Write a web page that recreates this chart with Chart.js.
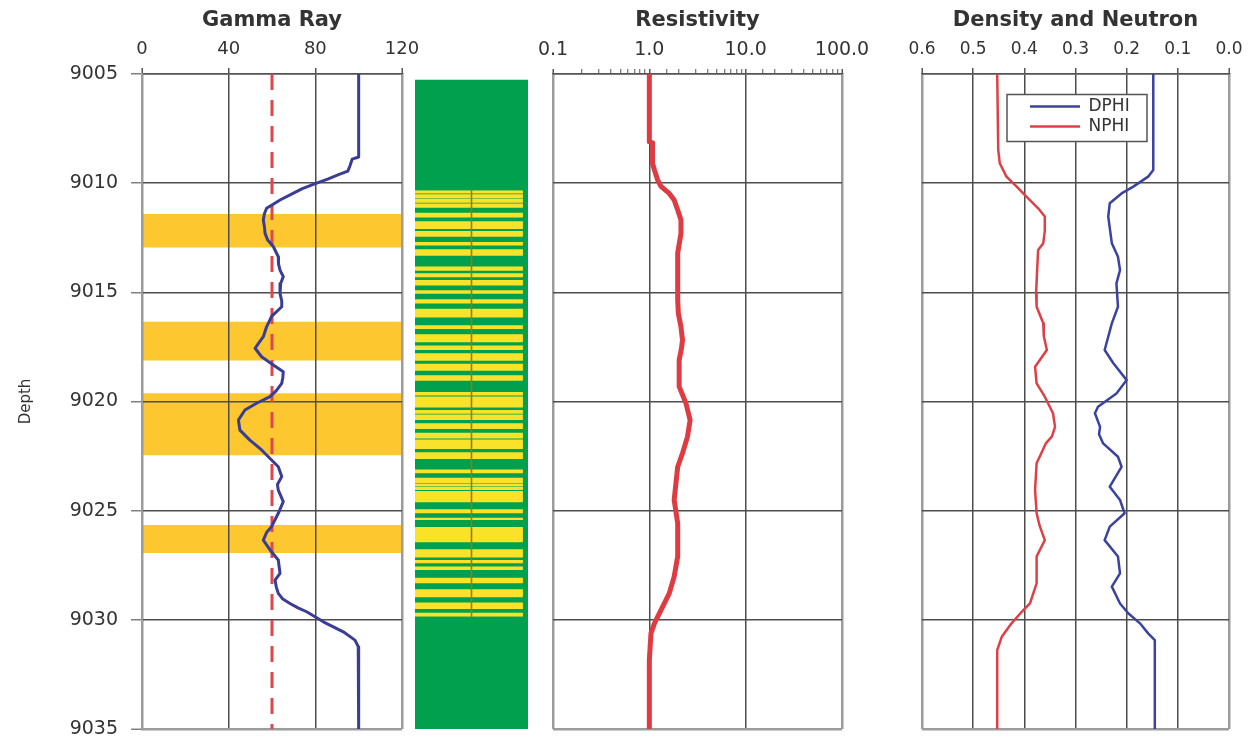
<!DOCTYPE html>
<html>
<head>
<meta charset="utf-8">
<script src="https://cdn.jsdelivr.net/npm/chart.js@4/dist/chart.umd.min.js"></script>
<style>
html,body{margin:0;padding:0;background:#ffffff;}
#wrap{position:relative;width:1256px;height:738px;overflow:hidden;}
#wrap canvas{position:absolute;left:0;top:0;}
</style>
</head>
<body>
<div id="wrap">
<canvas id="cLith" width="1256" height="738"></canvas>
<canvas id="cGamma" width="1256" height="738"></canvas>
<canvas id="cRes" width="1256" height="738"></canvas>
<canvas id="cDen" width="1256" height="738"></canvas>
</div>
<script>
// ---------------- DATA ----------------
const depthTicks = [9005, 9010, 9015, 9020, 9025, 9030, 9035];
const depthTickLabels = ['9005', '9010', '9015', '9020', '9025', '9030', '9035'];
const gammaTicks = [0, 40, 80, 120];
const gammaTickLabels = ['0', '40', '80', '120'];
const resTicks = [0.1, 1, 10, 100];
const resTickLabels = ['0.1', '1.0', '10.0', '100.0'];
const porTicks = [0.6, 0.5, 0.4, 0.3, 0.2, 0.1, 0.0];
const porTickLabels = ['0.6', '0.5', '0.4', '0.3', '0.2', '0.1', '0.0'];

const gammaDepth = [9005, 9008.8, 9008.9, 9009.2, 9009.45, 9009.6, 9009.8, 9010.0, 9010.25, 9010.47, 9010.77, 9011.0, 9011.15, 9011.4, 9011.69, 9012.0, 9012.3, 9012.6, 9012.9, 9013.37, 9013.7, 9013.98, 9014.28, 9014.6, 9015.05, 9015.4, 9015.66, 9016.1, 9016.58, 9017.03, 9017.3, 9017.56, 9017.95, 9018.33, 9018.64, 9018.9, 9019.17, 9019.5, 9019.78, 9020.08, 9020.39, 9020.85, 9021.31, 9021.77, 9022.22, 9022.68, 9022.99, 9023.44, 9023.8, 9024.06, 9024.59, 9025.12, 9025.73, 9026.0, 9026.35, 9026.8, 9027.26, 9027.87, 9028.18, 9028.5, 9028.79, 9029.05, 9029.25, 9029.45, 9029.63, 9030.09, 9030.55, 9030.93, 9031.23, 9035];
const gammaValue = [100, 100, 97, 96, 95, 91, 86, 80.6, 74, 69.7, 63.7, 60, 57.5, 56.5, 56, 56.5, 56.8, 58, 60.6, 62.9, 63, 63.7, 65.2, 64, 63.7, 64.5, 64.5, 59.8, 57.5, 56, 54, 52.2, 55.2, 60.6, 65.2, 65, 64.5, 62, 59.1, 52.9, 47.5, 44.5, 45.2, 49.8, 55.2, 59.8, 62.9, 64.5, 62.5, 62.9, 65.2, 62.9, 59.8, 57.5, 56, 59.1, 62.9, 63.7, 61.4, 62, 62.9, 65, 68.3, 72, 76, 83.7, 92.9, 98.3, 99.8, 100];
const gammaCutoff = [60];
const payZoneTop = [9011.4, 9016.35, 9019.62, 9025.66];
const payZoneBase = [9012.95, 9018.12, 9022.46, 9026.95];

const lithoColumn = [9005.25, 9035];
const lithoInterbedded = [9010.3, 9029.86];
const sandBedTop = [9010.32, 9010.51, 9010.73, 9010.93, 9011.35, 9011.74, 9012.19, 9012.70, 9013.03, 9013.82, 9014.13, 9014.44, 9014.90, 9015.32, 9015.75, 9016.51, 9016.92, 9017.43, 9017.79, 9018.27, 9018.80, 9019.57, 9019.77, 9020.39, 9020.60, 9021.00, 9021.43, 9021.74, 9022.32, 9023.11, 9023.49, 9023.77, 9023.92, 9024.10, 9024.94, 9025.32, 9025.75, 9026.77, 9027.26, 9027.56, 9028.07, 9028.60, 9029.21, 9029.67];
const sandBedBase = [9010.47, 9010.70, 9010.90, 9011.13, 9011.57, 9012.10, 9012.45, 9012.86, 9013.32, 9014.01, 9014.31, 9014.69, 9015.07, 9015.51, 9016.15, 9016.68, 9017.29, 9017.64, 9018.13, 9018.59, 9019.05, 9019.72, 9020.27, 9020.56, 9020.85, 9021.26, 9021.70, 9022.17, 9022.63, 9023.29, 9023.74, 9023.89, 9024.05, 9024.62, 9025.12, 9025.43, 9026.45, 9027.14, 9027.41, 9027.72, 9028.33, 9028.97, 9029.50, 9029.86];

const resDepth = [9005, 9008.1, 9008.15, 9009.1, 9009.4, 9009.86, 9010.15, 9010.47, 9010.77, 9011.23, 9011.69, 9012.3, 9013.2, 9014.28, 9015.35, 9015.96, 9016.58, 9017.19, 9017.6, 9018.1, 9019.32, 9020.08, 9020.85, 9021.61, 9022.37, 9022.99, 9024.51, 9025.58, 9027.1, 9028.02, 9028.79, 9029.55, 9030.16, 9030.62, 9031.84, 9035];
const resValue = [1.0, 1.0, 1.08, 1.08, 1.13, 1.22, 1.32, 1.61, 1.81, 1.97, 2.13, 2.13, 1.97, 1.97, 1.97, 2.0, 2.13, 2.21, 2.15, 2.04, 2.04, 2.40, 2.65, 2.49, 2.21, 1.97, 1.81, 1.97, 1.97, 1.81, 1.61, 1.32, 1.13, 1.04, 1.0, 1.0];

const nphiDepth = [9005, 9008.48, 9009.09, 9009.7, 9010.16, 9010.62, 9011.15, 9011.53, 9012.2, 9012.75, 9013.06, 9013.98, 9015.05, 9015.66, 9016.42, 9017.0, 9017.64, 9018.41, 9019.17, 9019.78, 9020.54, 9021.16, 9021.6, 9021.92, 9022.83, 9024.06, 9025.12, 9025.7, 9026.35, 9027.1, 9028.33, 9029.25, 9029.63, 9030.16, 9030.77, 9031.39, 9035];
const nphiValue = [0.453, 0.451, 0.448, 0.435, 0.415, 0.396, 0.373, 0.360, 0.360, 0.363, 0.373, 0.375, 0.377, 0.376, 0.363, 0.362, 0.356, 0.379, 0.376, 0.360, 0.344, 0.340, 0.346, 0.358, 0.376, 0.379, 0.376, 0.370, 0.360, 0.376, 0.376, 0.389, 0.405, 0.425, 0.444, 0.453, 0.453];

const dphiDepth = [9005, 9008.48, 9009.4, 9009.7, 9010.16, 9010.47, 9010.92, 9011.53, 9012.75, 9013.37, 9013.98, 9014.59, 9015.66, 9016.42, 9017.64, 9018.25, 9019.02, 9019.63, 9020.24, 9020.54, 9021.16, 9021.5, 9021.92, 9022.53, 9022.99, 9023.9, 9024.51, 9025.12, 9025.73, 9026.35, 9027.1, 9027.87, 9028.48, 9029.25, 9029.7, 9030.16, 9030.62, 9030.93, 9035];
const dphiValue = [0.148, 0.148, 0.148, 0.158, 0.187, 0.210, 0.233, 0.236, 0.229, 0.217, 0.213, 0.220, 0.217, 0.229, 0.243, 0.226, 0.200, 0.220, 0.256, 0.262, 0.252, 0.254, 0.246, 0.217, 0.210, 0.233, 0.213, 0.204, 0.233, 0.243, 0.217, 0.213, 0.229, 0.213, 0.197, 0.174, 0.158, 0.145, 0.145];

// ---------------- STYLE / HELPERS ----------------
const FONT = "'DejaVu Sans', 'Liberation Sans', sans-serif";
const TXT = '#333333';
const GRID_IN = '#4d4d4d';
const GRID_OUT = '#9c9c9c';
const W = 1256, H = 738;
const TOP_H = 74, BOT_PAD = 9;

Chart.defaults.font.family = FONT;
Chart.defaults.color = TXT;

const pts = (vals, depths) => vals.map((v, i) => ({x: v, y: depths[i]}));
const near = (a, b) => Math.abs(a - b) < 1e-6 * Math.max(1, Math.abs(b));
const labelFrom = (ticks, labels) => (v) => {
  const i = ticks.findIndex(t => near(v, t));
  return i >= 0 ? labels[i] : '';
};
const dMin = depthTicks[0], dMax = depthTicks[depthTicks.length - 1];

function boxPolygon(tops, bases, x0, x1) {
  const out = [];
  tops.forEach((t, i) => {
    out.push({x: x0, y: t}, {x: x1, y: t}, {x: x1, y: bases[i]}, {x: x0, y: bases[i]});
  });
  return out;
}

function depthScale(showLabels) {
  return {
    type: 'linear', position: 'left', min: dMin, max: dMax, reverse: true,
    afterFit: (s) => { s.width = showLabels ? 142 : 0; s.paddingTop = 0; s.paddingBottom = 0; },
    ticks: {
      display: showLabels, stepSize: 5, padding: 13,
      font: {family: FONT, size: 19, lineHeight: 1}, color: TXT,
      callback: labelFrom(depthTicks, depthTickLabels)
    },
    grid: {
      drawTicks: showLabels, tickLength: 11, tickColor: '#808080', tickWidth: 1.5,
      color: (c) => near(c.tick.value, dMax) ? GRID_OUT : GRID_IN,
      lineWidth: (c) => near(c.tick.value, dMax) ? 2.5 : 1.5
    },
    border: {display: showLabels, color: GRID_OUT, width: 2},
    title: showLabels ? {display: true, text: 'Depth', font: {family: FONT, size: 15}, color: TXT, padding: {top: 17, bottom: 0}} : {display: false}
  };
}

function topTitle(text) {
  return {display: true, text: text, font: {family: FONT, size: 21, weight: 'bold'}, color: TXT, padding: {top: 8, bottom: 0}};
}

const baseOpts = (left, right) => ({
  indexAxis: 'y', responsive: false, animation: false, events: [],
  layout: {padding: {left: left, right: W - right, top: 0, bottom: BOT_PAD}},
  elements: {point: {radius: 0}, line: {tension: 0, borderCapStyle: 'butt', borderJoinStyle: 'round'}}
});

// ---------------- LITHOLOGY ----------------
new Chart(document.getElementById('cLith'), {
  type: 'line',
  data: {datasets: [
    {label: 'center', data: [{x: 0.5, y: lithoInterbedded[0]}, {x: 0.5, y: lithoInterbedded[1]}], borderColor: '#8c7d1c', borderWidth: 1.6, fill: false, pointRadius: 0},
    {label: 'sand', data: boxPolygon(sandBedTop, sandBedBase, 0, 0.955), borderWidth: 0, borderColor: 'rgba(0,0,0,0)', backgroundColor: '#f8e32a', fill: 'origin', pointRadius: 0},
    {label: 'shale', data: [{x: 1, y: lithoColumn[0]}, {x: 1, y: lithoColumn[1]}], borderWidth: 0, borderColor: 'rgba(0,0,0,0)', backgroundColor: '#01a04f', fill: 'origin', pointRadius: 0}
  ]},
  options: Object.assign(baseOpts(415, 528), {
    layout: {padding: {left: 415, right: W - 528, top: TOP_H, bottom: BOT_PAD}},
    plugins: {legend: {display: false}, tooltip: {enabled: false}},
    scales: {
      x: {type: 'linear', display: false, min: 0, max: 1},
      y: {type: 'linear', display: false, min: dMin, max: dMax, reverse: true}
    }
  })
});

// ---------------- GAMMA RAY ----------------
const gMin = gammaTicks[0], gMax = gammaTicks[gammaTicks.length - 1];
new Chart(document.getElementById('cGamma'), {
  type: 'line',
  data: {datasets: [
    {label: 'Gamma Ray', data: pts(gammaValue, gammaDepth), borderColor: '#3a3d96', borderWidth: 3, fill: false, pointRadius: 0},
    {label: 'Cutoff', data: [{x: gammaCutoff[0], y: dMin}, {x: gammaCutoff[0], y: dMax}], borderColor: '#e0464c', borderWidth: 3, borderDash: [16, 10], fill: false, pointRadius: 0},
    {label: 'Pay', data: boxPolygon(payZoneTop, payZoneBase, gMin, gMax), borderWidth: 0, borderColor: 'rgba(0,0,0,0)', backgroundColor: '#fcc72f', fill: 'origin', pointRadius: 0}
  ]},
  options: Object.assign(baseOpts(0, 402), {
    plugins: {legend: {display: false}, tooltip: {enabled: false}, filler: {drawTime: 'beforeDraw'}},
    scales: {
      x: {
        type: 'linear', position: 'top', min: gMin, max: gMax,
        afterFit: (s) => { s.height = TOP_H; },
        ticks: {stepSize: 40, padding: 8, maxRotation: 0, font: {family: FONT, size: 18}, color: TXT, callback: labelFrom(gammaTicks, gammaTickLabels)},
        grid: {
          tickLength: 6, tickColor: '#555555', tickWidth: 1.5,
          color: (c) => (near(c.tick.value, gMin) || near(c.tick.value, gMax)) ? GRID_OUT : GRID_IN,
          lineWidth: (c) => (near(c.tick.value, gMin) || near(c.tick.value, gMax)) ? 2.5 : 1.5
        },
        border: {color: '#555555', width: 1.5},
        title: topTitle('Gamma Ray')
      },
      y: depthScale(true)
    }
  })
});

// ---------------- RESISTIVITY ----------------
const isMajorRes = (v) => resTicks.some(t => near(v, t));
const isEdgeRes = (v) => near(v, resTicks[0]) || near(v, resTicks[resTicks.length - 1]);
new Chart(document.getElementById('cRes'), {
  type: 'line',
  data: {datasets: [
    {label: 'Resistivity', data: pts(resValue, resDepth), borderColor: '#df3b42', borderWidth: 5, fill: false, pointRadius: 0}
  ]},
  options: Object.assign(baseOpts(553, 842), {
    plugins: {legend: {display: false}, tooltip: {enabled: false}},
    scales: {
      x: {
        type: 'logarithmic', position: 'top', min: resTicks[0], max: resTicks[resTicks.length - 1],
        afterFit: (s) => { s.height = TOP_H; },
        ticks: {autoSkip: false, maxRotation: 0, minRotation: 0, padding: 8, font: {family: FONT, size: 19}, color: TXT, callback: labelFrom(resTicks, resTickLabels)},
        grid: {
          tickLength: 5, tickColor: '#555555',
          tickWidth: (c) => isMajorRes(c.tick.value) ? 1.5 : 1,
          color: (c) => isEdgeRes(c.tick.value) ? GRID_OUT : (isMajorRes(c.tick.value) ? GRID_IN : 'rgba(0,0,0,0)'),
          lineWidth: (c) => isEdgeRes(c.tick.value) ? 2.5 : 1.5
        },
        border: {color: '#555555', width: 1.5},
        title: topTitle('Resistivity')
      },
      y: depthScale(false)
    }
  })
});

// ---------------- DENSITY / NEUTRON ----------------
const legendFramePlugin = {
  id: 'legendFrame',
  beforeDraw(chart) {
    const lg = chart.legend, ca = chart.chartArea;
    if (!lg) return;
    lg.left = ca.left + 105;
    lg.top = ca.top + 21;
    lg.right = lg.left + lg.width;
    lg.bottom = lg.top + lg.height;
  },
  afterDatasetsDraw(chart) {
    const lg = chart.legend, ca = chart.chartArea, ctx = chart.ctx;
    if (!lg) return;
    const bx = ca.left + 85, by = ca.top + 20.5, bw = 140, bh = 47;
    ctx.save();
    ctx.fillStyle = '#ffffff';
    ctx.fillRect(bx, by, bw, bh);
    ctx.strokeStyle = '#555555';
    ctx.lineWidth = 1.5;
    ctx.strokeRect(bx, by, bw, bh);
    ctx.restore();
    lg.draw();
  }
};

const pMin = 0, pMax = porTicks[0];
const isEdgePor = (v) => near(v, pMin) || near(v, pMax);
new Chart(document.getElementById('cDen'), {
  type: 'line',
  data: {datasets: [
    {label: 'DPHI', data: pts(dphiValue, dphiDepth), borderColor: '#3b439f', backgroundColor: '#3b439f', borderWidth: 2.5, fill: false, pointRadius: 0},
    {label: 'NPHI', data: pts(nphiValue, nphiDepth), borderColor: '#de4047', backgroundColor: '#de4047', borderWidth: 2.5, fill: false, pointRadius: 0}
  ]},
  plugins: [legendFramePlugin],
  options: Object.assign(baseOpts(922, 1229), {
    plugins: {
      tooltip: {enabled: false},
      legend: {
        display: true, position: 'chartArea', align: 'start',
        labels: {usePointStyle: true, pointStyle: 'line', pointStyleWidth: 50, boxHeight: 17, padding: 3, font: {family: FONT, size: 17}, color: TXT}
      }
    },
    scales: {
      x: {
        type: 'linear', position: 'top', min: pMin, max: pMax, reverse: true,
        afterFit: (s) => { s.height = TOP_H; },
        ticks: {stepSize: 0.1, padding: 8, maxRotation: 0, autoSkip: false, font: {family: FONT, size: 17}, color: TXT, callback: labelFrom(porTicks, porTickLabels)},
        grid: {
          tickLength: 6, tickColor: '#555555', tickWidth: 1.5,
          color: (c) => isEdgePor(c.tick.value) ? GRID_OUT : GRID_IN,
          lineWidth: (c) => isEdgePor(c.tick.value) ? 2.5 : 1.5
        },
        border: {color: '#555555', width: 1.5},
        title: topTitle('Density and Neutron')
      },
      y: depthScale(false)
    }
  })
});
</script>
</body>
</html>
